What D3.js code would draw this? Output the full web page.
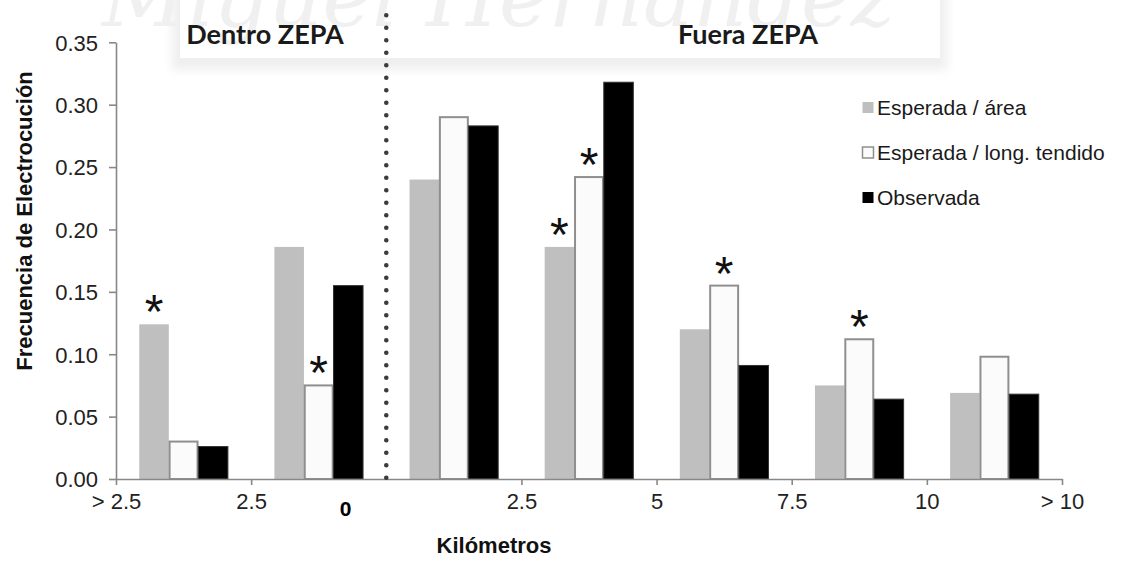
<!DOCTYPE html>
<html>
<head>
<meta charset="utf-8">
<script src="https://cdn.jsdelivr.net/npm/d3@7"></script>
<style>
  body { margin: 0; background: #fff; }
  svg { display: block; font-family: "Liberation Sans", Arial, sans-serif; }
  .axis path, .axis line { stroke: #888; stroke-width: 1.6; }
  .axis text { fill: #222; font-size: 22px; font-family: "Liberation Sans", Arial, sans-serif; }
</style>
</head>
<body>
<div id="chart"></div>
<script>
var categories = ['D 5-2.5', 'D 2.5-0', 'F 0-2.5', 'F 2.5-5', 'F 5-7.5', 'F 7.5-10', 'F >10']
var tickLabels = ['> 2.5', '2.5', '', '2.5', '5', '7.5', '10', '> 10']
var seriesNames = ['Esperada / área', 'Esperada / long. tendido', 'Observada']
var esperadaArea = [0.124, 0.186, 0.240, 0.186, 0.120, 0.075, 0.069]
var esperadaTendido = [0.030, 0.075, 0.290, 0.242, 0.155, 0.112, 0.098]
var observada = [0.026, 0.155, 0.283, 0.318, 0.091, 0.064, 0.068]
// asterisks: [category index, series index]
var significant = [[0, 0], [1, 1], [3, 0], [3, 1], [4, 1], [5, 1]]
var yTicks = [0, 0.05, 0.10, 0.15, 0.20, 0.25, 0.30, 0.35]

var width = 1126
var height = 564
var margin = { top: 42.3, right: 64, bottom: 85, left: 116 }
var innerW = width - margin.left - margin.right
var innerH = height - margin.top - margin.bottom

var svg = d3.select('#chart').append('svg')
  .attr('width', width)
  .attr('height', height)

// faint repository watermark at the top
var defs = svg.append('defs')
defs.append('filter').attr('id', 'soft')
  .append('feGaussianBlur').attr('stdDeviation', 5)
svg.append('rect')
  .attr('x', 172).attr('y', -20).attr('width', 775).attr('height', 90)
  .attr('fill', '#efefef').attr('filter', 'url(#soft)')
svg.append('rect')
  .attr('x', 180).attr('y', -20).attr('width', 760).attr('height', 78)
  .attr('fill', '#fff')
svg.append('text')
  .attr('x', 895).attr('y', 26)
  .attr('text-anchor', 'end')
  .attr('font-family', 'DejaVu Serif, serif')
  .attr('font-style', 'italic')
  .attr('font-size', 84)
  .attr('fill', '#f0f0f0')
  .text('Miguel Hernández')

var g = svg.append('g')
  .attr('transform', 'translate(' + margin.left + ',' + margin.top + ')')

var xIndex = d3.scaleLinear()
  .domain([0, categories.length])
  .range([0, innerW])
var x0 = d3.scaleBand()
  .domain(categories)
  .range([0, innerW])
  .paddingInner(0.344)
  .paddingOuter(0.172)
var x1 = d3.scaleBand()
  .domain(seriesNames)
  .range([0, x0.bandwidth()])
var y = d3.scaleLinear()
  .domain([0, 0.35])
  .range([innerH, 0])

var fills = ['#bfbfbf', '#fbfbfb', '#000']
var strokes = ['none', '#8f8f8f', '#333']
var allSeries = [esperadaArea, esperadaTendido, observada]

// bars
var groups = g.selectAll('.grp')
  .data(categories)
  .enter().append('g')
  .attr('class', 'grp')
  .attr('transform', function (d) { return 'translate(' + x0(d) + ',0)' })

groups.selectAll('rect')
  .data(function (d, i) {
    return seriesNames.map(function (s, j) { return { key: s, j: j, value: allSeries[j][i] } })
  })
  .enter().append('rect')
  .attr('x', function (d) { return x1(d.key) + (d.j === 1 ? 0.8 : 0) })
  .attr('y', function (d) { return y(d.value) })
  .attr('width', function (d) { return x1.bandwidth() - (d.j === 1 ? 1.6 : 0) })
  .attr('height', function (d) { return innerH - y(d.value) })
  .attr('fill', function (d) { return fills[d.j] })
  .attr('stroke', function (d) { return strokes[d.j] })
  .attr('stroke-width', function (d) { return d.j === 1 ? 2 : 1 })

// asterisks over significant bars
g.selectAll('.star')
  .data(significant)
  .enter().append('text')
  .attr('class', 'star')
  .attr('x', function (d) { return x0(categories[d[0]]) + x1(seriesNames[d[1]]) + x1.bandwidth() / 2 })
  .attr('y', function (d) { return y(allSeries[d[1]][d[0]]) + 4 })
  .attr('text-anchor', 'middle')
  .attr('font-size', 48)
  .attr('fill', '#111')
  .text('*')

// y axis
var yAxis = d3.axisLeft(y)
  .tickValues(yTicks)
  .tickFormat(d3.format('.2f'))
  .tickSize(7)
  .tickSizeOuter(0)
  .tickPadding(11)
g.append('g')
  .attr('class', 'axis y-axis')
  .call(yAxis)
  .selectAll('text').attr('dy', '0.36em')

// x axis, ticks on category boundaries
var xAxis = d3.axisBottom(xIndex)
  .tickValues(d3.range(categories.length + 1).filter(function (i) { return tickLabels[i] !== '' }))
  .tickFormat(function (i) { return tickLabels[i] })
  .tickSize(6)
  .tickSizeOuter(0)
  .tickPadding(8)
g.append('g')
  .attr('class', 'axis x-axis')
  .attr('transform', 'translate(0,' + innerH + ')')
  .call(xAxis)

// bold zero under the split
g.append('text')
  .attr('x', (xIndex(1) + xIndex(2)) / 2 + 27)
  .attr('y', innerH + 37)
  .attr('text-anchor', 'middle')
  .attr('font-size', 21)
  .attr('font-weight', 'bold')
  .attr('fill', '#000')
  .text('0')

// dotted separator Dentro / Fuera
g.append('line')
  .attr('x1', xIndex(2)).attr('x2', xIndex(2))
  .attr('y1', -27).attr('y2', innerH + 3)
  .attr('stroke', '#3c3c3c')
  .attr('stroke-width', 4.6)
  .attr('stroke-linecap', 'round')
  .attr('stroke-dasharray', '0 12.5')

// region titles
var titleFont = 'Lato, "Open Sans", sans-serif'
svg.append('text')
  .attr('x', 265).attr('y', 44)
  .attr('text-anchor', 'middle')
  .attr('font-family', titleFont)
  .attr('font-weight', 'bold')
  .attr('font-size', 27)
  .attr('fill', '#1a1a1a')
  .text('Dentro ZEPA')
svg.append('text')
  .attr('x', 748).attr('y', 44)
  .attr('text-anchor', 'middle')
  .attr('font-family', titleFont)
  .attr('font-weight', 'bold')
  .attr('font-size', 27)
  .attr('fill', '#1a1a1a')
  .text('Fuera ZEPA')

// axis titles
svg.append('text')
  .attr('transform', 'translate(32,' + 221 + ') rotate(-90)')
  .attr('text-anchor', 'middle')
  .attr('font-size', 22)
  .attr('font-weight', 'bold')
  .attr('fill', '#111')
  .text('Frecuencia de Electrocución')
svg.append('text')
  .attr('x', 494).attr('y', 553)
  .attr('text-anchor', 'middle')
  .attr('font-size', 22)
  .attr('font-weight', 'bold')
  .attr('fill', '#111')
  .text('Kilómetros')

// legend
var legend = svg.append('g')
  .attr('transform', 'translate(862,115)')
var item = legend.selectAll('g')
  .data(seriesNames)
  .enter().append('g')
  .attr('transform', function (d, i) { return 'translate(0,' + i * 45 + ')' })
item.append('rect')
  .attr('x', 0.5).attr('y', -13)
  .attr('width', 11).attr('height', 11)
  .attr('fill', function (d, i) { return fills[i] })
  .attr('stroke', function (d, i) { return i === 1 ? '#8f8f8f' : 'none' })
  .attr('stroke-width', 1.5)
item.append('text')
  .attr('x', 15)
  .attr('font-size', 21)
  .attr('fill', '#1a1a1a')
  .text(function (d) { return d })
</script>
</body>
</html>
